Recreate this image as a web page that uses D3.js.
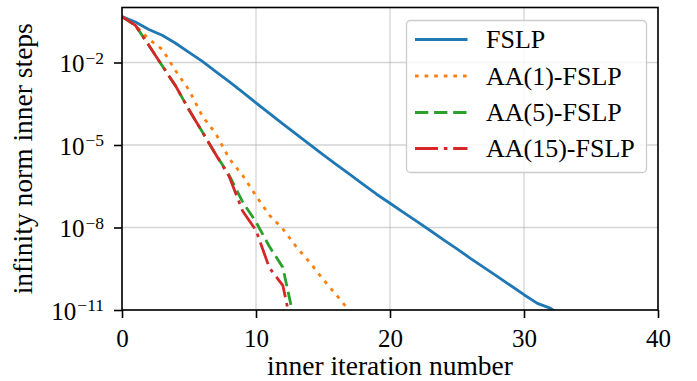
<!DOCTYPE html>
<html>
<head>
<meta charset="utf-8">
<script src="https://cdn.jsdelivr.net/npm/d3@7/dist/d3.min.js"></script>
<style>
  html, body { margin: 0; padding: 0; background: #fff; }
  svg { display: block; }
</style>
</head>
<body>
<svg id="chart" width="697" height="381"></svg>
<script>
// ---- data ----
const xTicks = [0, 10, 20, 30, 40];
const yTickExponents = [-11, -8, -5, -2];
const seriesNames = ["FSLP", "AA(1)-FSLP", "AA(5)-FSLP", "AA(15)-FSLP"];

const iterFSLP = [0,1,2,3,4,5,6,7,8,9,10,11,12,13,14,15,16,17,18,19,20,21,22,23,24,25,26,27,28,29,30,31,32,33];
const valFSLP = [0.468, 0.295, 0.158, 0.0977, 0.0501, 0.0234, 0.011, 4.68e-3, 2.0e-3, 8.3e-4,
  3.4e-4, 1.41e-4, 5.9e-5, 2.5e-5, 1.05e-5, 4.5e-6, 1.95e-6, 8.5e-7, 3.7e-7, 1.62e-7,
  7.6e-8, 3.55e-8, 1.66e-8, 7.8e-9, 3.55e-9, 1.66e-9, 7.6e-10, 3.55e-10, 1.66e-10, 7.8e-11,
  3.6e-11, 1.74e-11, 1.15e-11, 5.0e-12];

const iterAA1 = [0,1,2,3,4,5,6,7,8,9,10,11,12,13,14,15,16,17];
const valAA1 = [0.468, 0.224, 0.0708, 0.0302, 5.0e-3, 1.0e-3, 1.12e-4, 2.6e-5, 3.2e-6, 7.9e-7,
  1.41e-7, 2.8e-8, 8.9e-9, 2.0e-9, 5.5e-10, 1.32e-10, 3.5e-11, 8.9e-12];

const iterAA5 = [0,1,2,3,4,5,6,7,8,9,10,11,12,13];
const valAA5 = [0.468, 0.224, 0.0427, 7.6e-3, 1.41e-3, 1.9e-4, 2.95e-5, 4.5e-6, 7.9e-7, 8.5e-8,
  1.58e-8, 2.04e-9, 3.55e-10, 2.0e-12];

const iterAA15 = [0,1,2,3,4,5,6,7,8,9,10,11,12,13];
const valAA15 = [0.468, 0.224, 0.0427, 7.6e-3, 1.41e-3, 1.9e-4, 2.95e-5, 4.5e-6, 7.1e-7, 4.0e-8,
  7.9e-9, 3.4e-10, 7.9e-11, 4.0e-13];

// ---- layout ----
const FONT = "'Liberation Serif', 'Times New Roman', serif";
const svg = d3.select("#chart");
const L = 122, R = 658, T = 7.5, B = 310;

const x = d3.scaleLinear().domain([0, 40]).range([L, R]);
const y = d3.scaleLog().domain([1e-11, 1]).range([B, T]);

const colors = ["#1f77b4", "#ff7f0e", "#2ca02c", "#d62728"];
const dashes = [null, "3.6 6", "13.3 5.8", "23 5.8 3.6 5.8"];
const lw = 2.8;

// clip
svg.append("defs").append("clipPath").attr("id", "clip")
  .append("rect").attr("x", L).attr("y", T).attr("width", R - L).attr("height", B - T);

// grid
const grid = svg.append("g");
grid.selectAll("line.gx").data(xTicks).join("line")
  .attr("x1", d => x(d)).attr("x2", d => x(d)).attr("y1", T).attr("y2", B)
  .attr("stroke", "#b0b0b0").attr("stroke-opacity", 0.55).attr("stroke-width", 1.3);
grid.selectAll("line.gy").data(yTickExponents).join("line")
  .attr("x1", L).attr("x2", R).attr("y1", d => y(Math.pow(10, d))).attr("y2", d => y(Math.pow(10, d)))
  .attr("stroke", "#b0b0b0").attr("stroke-opacity", 0.55).attr("stroke-width", 1.3);

// lines
const series = [
  {x: iterFSLP, v: valFSLP},
  {x: iterAA1, v: valAA1},
  {x: iterAA5, v: valAA5},
  {x: iterAA15, v: valAA15}
];
const lineGen = d3.line().x(d => x(d[0])).y(d => y(d[1]));
const lines = svg.append("g").attr("clip-path", "url(#clip)");
series.forEach((s, i) => {
  const pts = s.x.map((xi, k) => [xi, s.v[k]]);
  lines.append("path").datum(pts)
    .attr("d", lineGen)
    .attr("fill", "none")
    .attr("stroke", colors[i])
    .attr("stroke-width", lw)
    .attr("stroke-linejoin", "round")
    .attr("stroke-linecap", "butt")
    .attr("stroke-dasharray", dashes[i]);
});

// frame
svg.append("rect").attr("x", L).attr("y", T).attr("width", R - L).attr("height", B - T)
  .attr("fill", "none").attr("stroke", "#000").attr("stroke-width", 1.6);

// axes
const xAxis = d3.axisBottom(x).tickValues(xTicks).tickSize(8).tickPadding(6).tickFormat(d3.format("d"));
const gx = svg.append("g").attr("transform", `translate(0,${B})`).call(xAxis);
gx.select(".domain").remove();
gx.selectAll(".tick line").attr("stroke", "#000").attr("stroke-width", 1.6);
gx.selectAll(".tick text")
  .style("font-family", FONT).style("font-size", "25px").style("fill", "#000")
  .attr("dy", null).attr("y", 37);

const yAxis = d3.axisLeft(y).tickValues(yTickExponents.map(e => Math.pow(10, e))).tickSize(8).tickFormat("");
const gy = svg.append("g").attr("transform", `translate(${L},0)`).call(yAxis);
gy.select(".domain").remove();
gy.selectAll(".tick line").attr("stroke", "#000").attr("stroke-width", 1.6);
gy.selectAll(".tick").each(function(d) {
  const e = Math.round(Math.log10(d));
  const t = d3.select(this).append("text")
    .attr("x", -18).attr("y", 9)
    .attr("text-anchor", "end")
    .style("font-family", FONT).style("font-size", "25px").style("fill", "#000");
  t.append("tspan").text("10");
  t.append("tspan").attr("dy", -8.5).attr("dx", 1).style("font-size", "17.5px").text("\u2212" + Math.abs(e));
});

// axis labels
svg.append("text").attr("x", (L + R) / 2).attr("y", 375)
  .attr("text-anchor", "middle")
  .style("font-family", FONT).style("font-size", "27.5px").style("fill", "#000")
  .text("inner iteration number");
svg.append("text").attr("transform", `translate(32,${(T + B) / 2}) rotate(-90)`)
  .attr("text-anchor", "middle")
  .style("font-family", FONT).style("font-size", "27.5px").style("fill", "#000")
  .text("infinity norm inner steps");

// legend
const lg = svg.append("g");
lg.append("rect").attr("x", 406.5).attr("y", 20.5).attr("width", 240).attr("height", 152)
  .attr("rx", 4).attr("fill", "#fff").attr("fill-opacity", 0.8)
  .attr("stroke", "#cccccc").attr("stroke-width", 1.3);
const rowY = [39.5, 76, 112.5, 148.5];
seriesNames.forEach((name, i) => {
  lg.append("line").attr("x1", 415).attr("x2", 467.5).attr("y1", rowY[i]).attr("y2", rowY[i])
    .attr("stroke", colors[i]).attr("stroke-width", lw).attr("stroke-dasharray", dashes[i]);
  lg.append("text").attr("x", 486).attr("y", rowY[i] + 8.5)
    .style("font-family", FONT).style("font-size", "26px").style("fill", "#000")
    .text(name);
});
</script>
</body>
</html>
